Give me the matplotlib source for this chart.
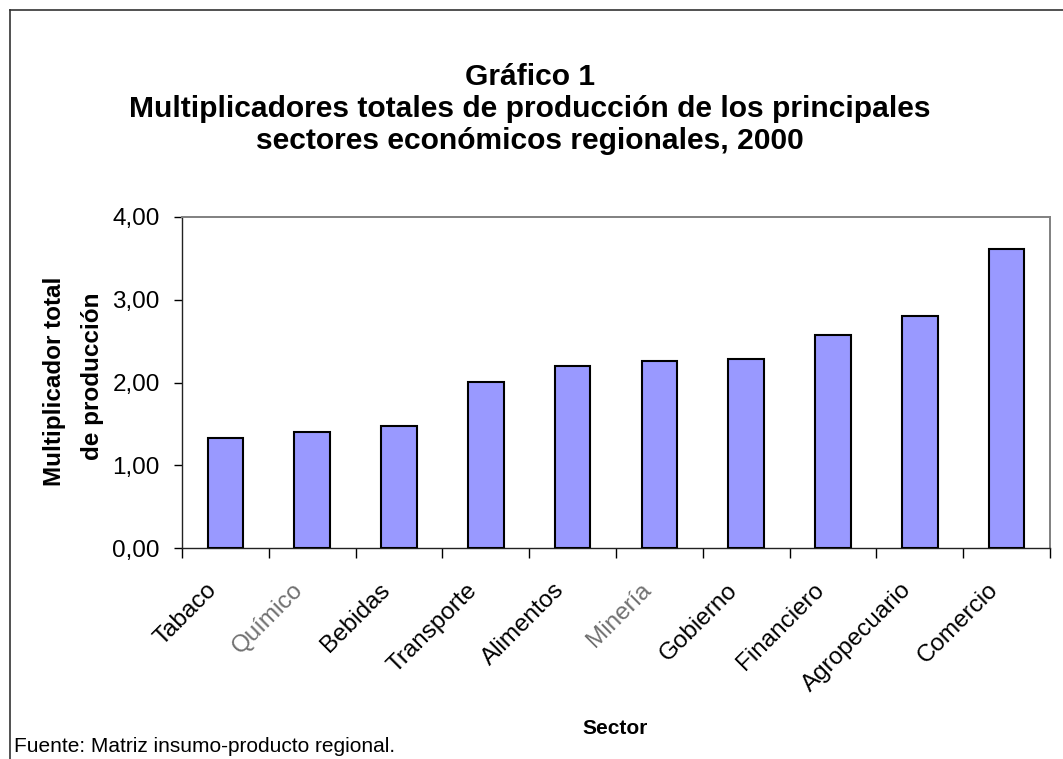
import matplotlib.pyplot as plt
import matplotlib.transforms as mtransforms
import numpy as np

sectores = ['Tabaco', 'Químico', 'Bebidas', 'Transporte', 'Alimentos',
            'Minería', 'Gobierno', 'Financiero', 'Agropecuario', 'Comercio']
multiplicadores = [1.33, 1.40, 1.47, 2.01, 2.20, 2.26, 2.28, 2.57, 2.80, 3.61]
y_ticks = [0, 1, 2, 3, 4]
y_tick_labels = ['0,00', '1,00', '2,00', '3,00', '4,00']
# sectors that appear faded in the original
sectores_grises = ['Químico', 'Minería']

plt.rcParams['font.family'] = ['Liberation Sans', 'DejaVu Sans']

fig = plt.figure(figsize=(10.63, 7.59), dpi=100)
ax = fig.add_axes([182 / 1063, 1 - 548 / 759, (1050 - 182) / 1063, (548 - 217) / 759])

x = np.arange(len(sectores))
ax.bar(x, multiplicadores, width=0.41, color='#9999FF', edgecolor='black', linewidth=1.5, zorder=3)

ax.set_xlim(-0.5, len(sectores) - 0.5)
ax.set_ylim(0, 4)
ax.set_yticks(y_ticks)
ax.set_yticklabels(y_tick_labels, fontsize=17.5)
ax.tick_params(axis='y', length=6, width=1, direction='out', pad=10)

ax.set_xticks(x)
ax.set_xticklabels(sectores, rotation=45, ha='right', va='center',
                   rotation_mode='anchor', fontsize=17.5)
ax.tick_params(axis='x', which='major', length=0, pad=28)
ax.set_xticks(np.arange(-0.5, len(sectores)), minor=True)
ax.tick_params(axis='x', which='minor', length=7, width=1, direction='out')

# shift the slanted labels a little to the left, like the original
shift = mtransforms.ScaledTranslation(-12 / 100, 0, fig.dpi_scale_trans)
for lbl in ax.get_xticklabels():
    lbl.set_transform(lbl.get_transform() + shift)
    if lbl.get_text() in sectores_grises:
        lbl.set_color('#707070')

for s in ['left', 'bottom']:
    ax.spines[s].set_color('#222222')
    ax.spines[s].set_linewidth(1.0)
for s in ['top', 'right']:
    ax.spines[s].set_color('#808080')
    ax.spines[s].set_linewidth(1.4)

fig.text(530 / 1063, 1 - 109 / 759,
         'Gráfico 1\nMultiplicadores totales de producción de los principales\n'
         'sectores económicos regionales, 2000',
         ha='center', va='center', fontsize=21.6, fontweight='bold', linespacing=1.2)

fig.text(54 / 1063, 1 - 381 / 759, 'Multiplicador total',
         rotation=90, ha='center', va='center', fontsize=17.5, fontweight='bold')
fig.text(92 / 1063, 1 - 376 / 759, 'de producción',
         rotation=90, ha='center', va='center', fontsize=17.5, fontweight='bold')

fig.text(615 / 1063, 1 - 729 / 759, 'Sector', ha='center', va='center',
         fontsize=15, fontweight='bold')

fig.text(14 / 1063, 1 - 747 / 759, 'Fuente: Matriz insumo-producto regional.',
         ha='left', va='center', fontsize=15)

# outer chart frame (only top and left edges visible in the crop)
fig.add_artist(plt.Line2D([10 / 1063, 1], [1 - 10 / 759, 1 - 10 / 759],
                          transform=fig.transFigure, color='#333333', linewidth=1.2))
fig.add_artist(plt.Line2D([10 / 1063, 10 / 1063], [0, 1 - 10 / 759],
                          transform=fig.transFigure, color='#333333', linewidth=1.2))

fig.savefig('out.png', dpi=100, facecolor='white')
